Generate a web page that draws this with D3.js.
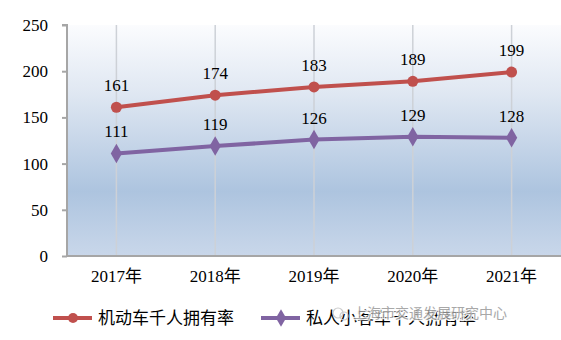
<!DOCTYPE html>
<html>
<head>
<meta charset="utf-8">
<script src="https://cdn.jsdelivr.net/npm/d3@7"></script>
<style>
  html, body { margin: 0; padding: 0; background: #fff; }
  svg { display: block; }
</style>
</head>
<body>
<svg id="chart" width="561" height="340"></svg>
<script>
const years = ["2017年", "2018年", "2019年", "2020年", "2021年"];
const motorVehicles = [161, 174, 183, 189, 199];
const privateCars = [111, 119, 126, 129, 128];
const yTicks = [0, 50, 100, 150, 200, 250];
const seriesNames = ["机动车千人拥有率", "私人小客车千人拥有率"];
const seriesColors = ["#c0504d", "#8064a2"];
const watermark = "上海市交通发展研究中心";

const SERIF = "'Liberation Serif', 'Times New Roman', 'DejaVu Serif', 'Noto Sans CJK SC', serif";

const svg = d3.select("#chart");
const margin = { left: 67, right: 0, top: 25, bottom: 84 };
const W = 561, H = 340;
const plotW = W - margin.left - margin.right;
const plotH = H - margin.top - margin.bottom;

const x = d3.scaleBand().domain(years).range([margin.left, margin.left + plotW]);
const y = d3.scaleLinear().domain([0, 250]).range([margin.top + plotH, margin.top]);

// plot area background gradient
const defs = svg.append("defs");
const grad = defs.append("linearGradient").attr("id", "bg").attr("x1", 0).attr("y1", 0).attr("x2", 0).attr("y2", 1);
grad.append("stop").attr("offset", "0%").attr("stop-color", "#fbfcfe");
grad.append("stop").attr("offset", "30%").attr("stop-color", "#dfe7f2");
grad.append("stop").attr("offset", "72%").attr("stop-color", "#adc4df");
grad.append("stop").attr("offset", "100%").attr("stop-color", "#c9d7ea");

svg.append("rect")
  .attr("x", margin.left).attr("y", margin.top)
  .attr("width", plotW).attr("height", plotH)
  .attr("fill", "url(#bg)");

// vertical gridlines at each category
svg.append("g").selectAll("line").data(years).join("line")
  .attr("x1", d => x(d) + x.bandwidth() / 2)
  .attr("x2", d => x(d) + x.bandwidth() / 2)
  .attr("y1", y(250)).attr("y2", y(0))
  .attr("stroke", "#cdd1d7").attr("stroke-width", 1.5);

// y axis
const yAxis = svg.append("g")
  .attr("transform", `translate(${margin.left},0)`)
  .call(d3.axisLeft(y).tickValues(yTicks).tickSize(5).tickPadding(14));
yAxis.attr("font-family", null);
yAxis.select(".domain").attr("stroke", "#a6a6a6").attr("stroke-width", 2).attr("d", `M-5,${y(250)}H0V${y(0)}`);
yAxis.selectAll(".tick line").attr("stroke", "#a6a6a6").attr("stroke-width", 2);
yAxis.selectAll(".tick text").attr("fill", "#000").style("font-family", SERIF).style("font-size", "17px");

// x axis
const xAxis = svg.append("g")
  .attr("transform", `translate(0,${y(0)})`)
  .call(d3.axisBottom(x).tickSize(0).tickPadding(14));
xAxis.attr("font-family", null);
xAxis.select(".domain").attr("stroke", "#a6a6a6").attr("stroke-width", 2).attr("d", `M${margin.left - 1},0H${margin.left + plotW}`);
xAxis.selectAll(".tick text").attr("fill", "#000").style("font-family", SERIF).style("font-size", "17px").attr("dy", "0.71em");

const cx = d => x(d) + x.bandwidth() / 2;
const line = d3.line().x((d, i) => cx(years[i])).y(d => y(d));

const diamond = d3.symbol().type(d3.symbolDiamond).size(110);

[motorVehicles, privateCars].forEach((vals, si) => {
  const g = svg.append("g");
  g.append("path").datum(vals)
    .attr("d", line).attr("fill", "none")
    .attr("stroke", seriesColors[si]).attr("stroke-width", 4).attr("stroke-linejoin", "round");
  if (si === 0) {
    g.selectAll("circle").data(vals).join("circle")
      .attr("cx", (d, i) => cx(years[i])).attr("cy", d => y(d))
      .attr("r", 5.5).attr("fill", seriesColors[si]);
  } else {
    g.selectAll("path.m").data(vals).join("path").attr("class", "m")
      .attr("d", diamond)
      .attr("transform", (d, i) => `translate(${cx(years[i])},${y(d)})`)
      .attr("fill", seriesColors[si]);
  }
  g.selectAll("text").data(vals).join("text")
    .attr("x", (d, i) => cx(years[i])).attr("y", d => y(d) - 16)
    .attr("text-anchor", "middle").attr("fill", "#000")
    .style("font-family", SERIF).style("font-size", "17px")
    .text(d => d);
});

// legend
const legendY = 318;
const legendItems = [{ x: 53 }, { x: 261 }];
legendItems.forEach((it, i) => {
  const g = svg.append("g").attr("transform", `translate(${it.x},${legendY})`);
  g.append("line").attr("x1", 0).attr("x2", 39).attr("y1", 0).attr("y2", 0)
    .attr("stroke", seriesColors[i]).attr("stroke-width", 4);
  if (i === 0) {
    g.append("circle").attr("cx", 20).attr("cy", 0).attr("r", 5).attr("fill", seriesColors[i]);
  } else {
    g.append("path").attr("d", d3.symbol().type(d3.symbolDiamond).size(90)).attr("transform", "translate(20,0)").attr("fill", seriesColors[i]);
  }
  g.append("text").attr("x", 45).attr("y", 0).attr("dy", "0.36em")
    .attr("fill", "#000").style("font-family", SERIF).style("font-size", "17px").text(seriesNames[i]);
});

// publisher mark
const wm = svg.append("g").attr("transform", "translate(338,313)");
wm.append("circle").attr("cx", 0).attr("cy", 0).attr("r", 5).attr("fill", "none").attr("stroke", "#ccc").attr("stroke-width", 1.2);
wm.append("circle").attr("cx", 6).attr("cy", 3).attr("r", 4).attr("fill", "none").attr("stroke", "#ccc").attr("stroke-width", 1.2);
wm.append("text").attr("x", 15).attr("y", 0).attr("dy", "0.36em")
  .style("font-family", "'Noto Sans CJK SC', sans-serif").style("font-size", "14px")
  .attr("fill", "#9a9a9a").attr("stroke", "#fff").attr("stroke-width", 2.5).attr("paint-order", "stroke")
  .attr("opacity", 0.85)
  .text(watermark);
</script>
</body>
</html>
